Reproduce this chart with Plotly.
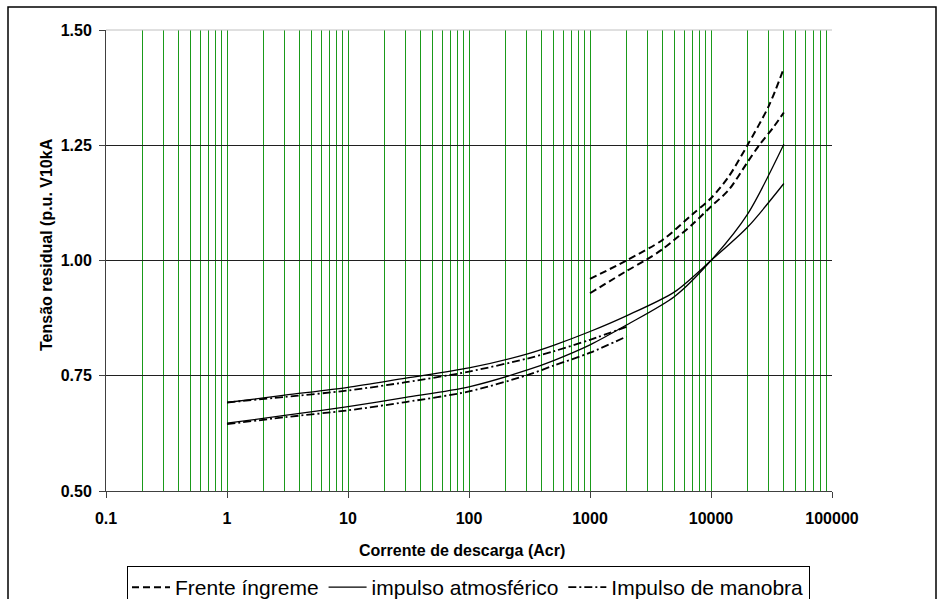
import plotly.graph_objects as go

# ---- data ----
x_tick_vals = [0.1, 1, 10, 100, 1000, 10000, 100000]
x_tick_text = ["0.1", "1", "10", "100", "1000", "10000", "100000"]
y_tick_vals = [0.5, 0.75, 1.0, 1.25, 1.5]
y_tick_text = ["0.50", "0.75", "1.00", "1.25", "1.50"]

# Frente íngreme (dashed), two curves
x_fi_a = [1000, 2000, 4000, 7000, 10000, 14000, 20000, 30000, 40000]
y_fi_a = [0.960, 1.000, 1.045, 1.100, 1.135, 1.182, 1.250, 1.335, 1.417]
x_fi_b = [1000, 2000, 2850, 4000, 7000, 10000, 14000, 20000, 25000, 33000, 40000]
y_fi_b = [0.929, 0.977, 1.000, 1.025, 1.078, 1.117, 1.153, 1.213, 1.250, 1.290, 1.321]

# impulso atmosférico (solid), two curves
x_ia_a = [1, 3, 10, 30, 100, 300, 500, 1000, 2000, 5000, 10000, 20000, 40000]
y_ia_a = [0.692, 0.708, 0.725, 0.745, 0.767, 0.797, 0.816, 0.846, 0.880, 0.932, 1.000, 1.072, 1.167]
x_ia_b = [1, 3, 10, 30, 100, 300, 500, 1000, 2000, 5000, 10000, 20000, 40000]
y_ia_b = [0.647, 0.664, 0.683, 0.703, 0.726, 0.762, 0.783, 0.817, 0.860, 0.922, 1.000, 1.100, 1.252]

# Impulso de manobra (dash-dot), two curves
x_im_a = [1, 3, 10, 30, 100, 300, 500, 1000, 2000]
y_im_a = [0.692, 0.704, 0.718, 0.736, 0.759, 0.787, 0.803, 0.828, 0.856]
x_im_b = [1, 3, 10, 30, 100, 300, 500, 1000, 2000]
y_im_b = [0.645, 0.660, 0.675, 0.693, 0.716, 0.751, 0.772, 0.800, 0.835]

minor_vals = [m * 10.0 ** e for e in range(-1, 5) for m in range(2, 10)]

GREEN = "#1a9a1a"
AXIS = "#404040"
FONT = "Arial, Liberation Sans, sans-serif"

fig = go.Figure()

def add(x, y, name, dash, width, show):
    fig.add_trace(go.Scatter(
        x=x, y=y, mode="lines", name=name, legendgroup=name, showlegend=show,
        line=dict(color="black", width=width, dash=dash, shape="spline", smoothing=0.8),
    ))

add(x_fi_a, y_fi_a, "Frente íngreme", "7px,4px", 2.0, True)
add(x_fi_b, y_fi_b, "Frente íngreme", "7px,4px", 2.0, False)
add(x_ia_a, y_ia_a, "impulso atmosférico", "solid", 1.3, True)
add(x_ia_b, y_ia_b, "impulso atmosférico", "solid", 1.3, False)
add(x_im_a, y_im_a, "Impulso de manobra", "8px,3px,2px,3px", 1.8, True)
add(x_im_b, y_im_b, "Impulso de manobra", "8px,3px,2px,3px", 1.8, False)

L, R, T, B = 106, 944 - 832, 30, 599 - 491
PW, PH = 944 - L - R, 599 - T - B

def px(xp):
    return (xp - L) / PW

def py(yp):
    return (599 - B - yp) / PH

fig.update_layout(
    width=944, height=599,
    margin=dict(l=L, r=R, t=T, b=B, autoexpand=False),
    paper_bgcolor="white", plot_bgcolor="white",
    font=dict(family=FONT, color="black"),
    showlegend=True,
    legend=dict(
        orientation="h", x=px(127), y=py(566), xanchor="left", yanchor="top",
        bordercolor="black", borderwidth=1, bgcolor="white",
        font=dict(family=FONT, size=21, color="black"),
        itemwidth=38, tracegroupgap=0,
    ),
    xaxis=dict(
        type="log", range=[-1, 5],
        tickmode="array", tickvals=x_tick_vals, ticktext=x_tick_text,
        ticks="outside", ticklen=6, tickcolor=AXIS, tickwidth=1,
        showline=True, linecolor=AXIS, linewidth=1,
        showgrid=True, gridcolor=GREEN, gridwidth=1, zeroline=False,
        tickfont=dict(family=FONT, size=16, weight="bold", color="black"),
        ticklabelstandoff=7,
        minor=dict(tickmode="array", tickvals=minor_vals, showgrid=True,
                   gridcolor=GREEN, gridwidth=1, ticks=""),
    ),
    yaxis=dict(
        range=[0.5, 1.5],
        tickmode="array", tickvals=y_tick_vals, ticktext=y_tick_text,
        ticks="outside", ticklen=6, tickcolor=AXIS, tickwidth=1,
        showline=True, linecolor=AXIS, linewidth=1,
        showgrid=True, gridcolor="#202020", gridwidth=1, zeroline=False,
        tickfont=dict(family=FONT, size=16, weight="bold", color="black"),
        ticklabelstandoff=4,
    ),
    annotations=[
        dict(text="Corrente de descarga (Acr)", xref="paper", yref="paper",
             x=px(462), y=py(550), showarrow=False, xanchor="center", yanchor="middle",
             font=dict(family=FONT, size=16, weight="bold", color="black")),
        dict(text="Tensão residual (p.u. V10kA", xref="paper", yref="paper",
             x=px(46), y=py(245), showarrow=False, xanchor="center", yanchor="middle",
             textangle=-90,
             font=dict(family=FONT, size=16, weight="bold", color="black")),
    ],
    shapes=[
        dict(type="line", xref="paper", yref="paper", x0=0, x1=1, y0=1, y1=1,
             line=dict(color="#c0c0c0", width=1), layer="above"),
        dict(type="rect", xref="paper", yref="paper",
             x0=px(8), x1=px(936), y0=py(7), y1=py(640),
             line=dict(color="black", width=1.5), layer="below"),
    ],
)

fig.write_html("out.html")
